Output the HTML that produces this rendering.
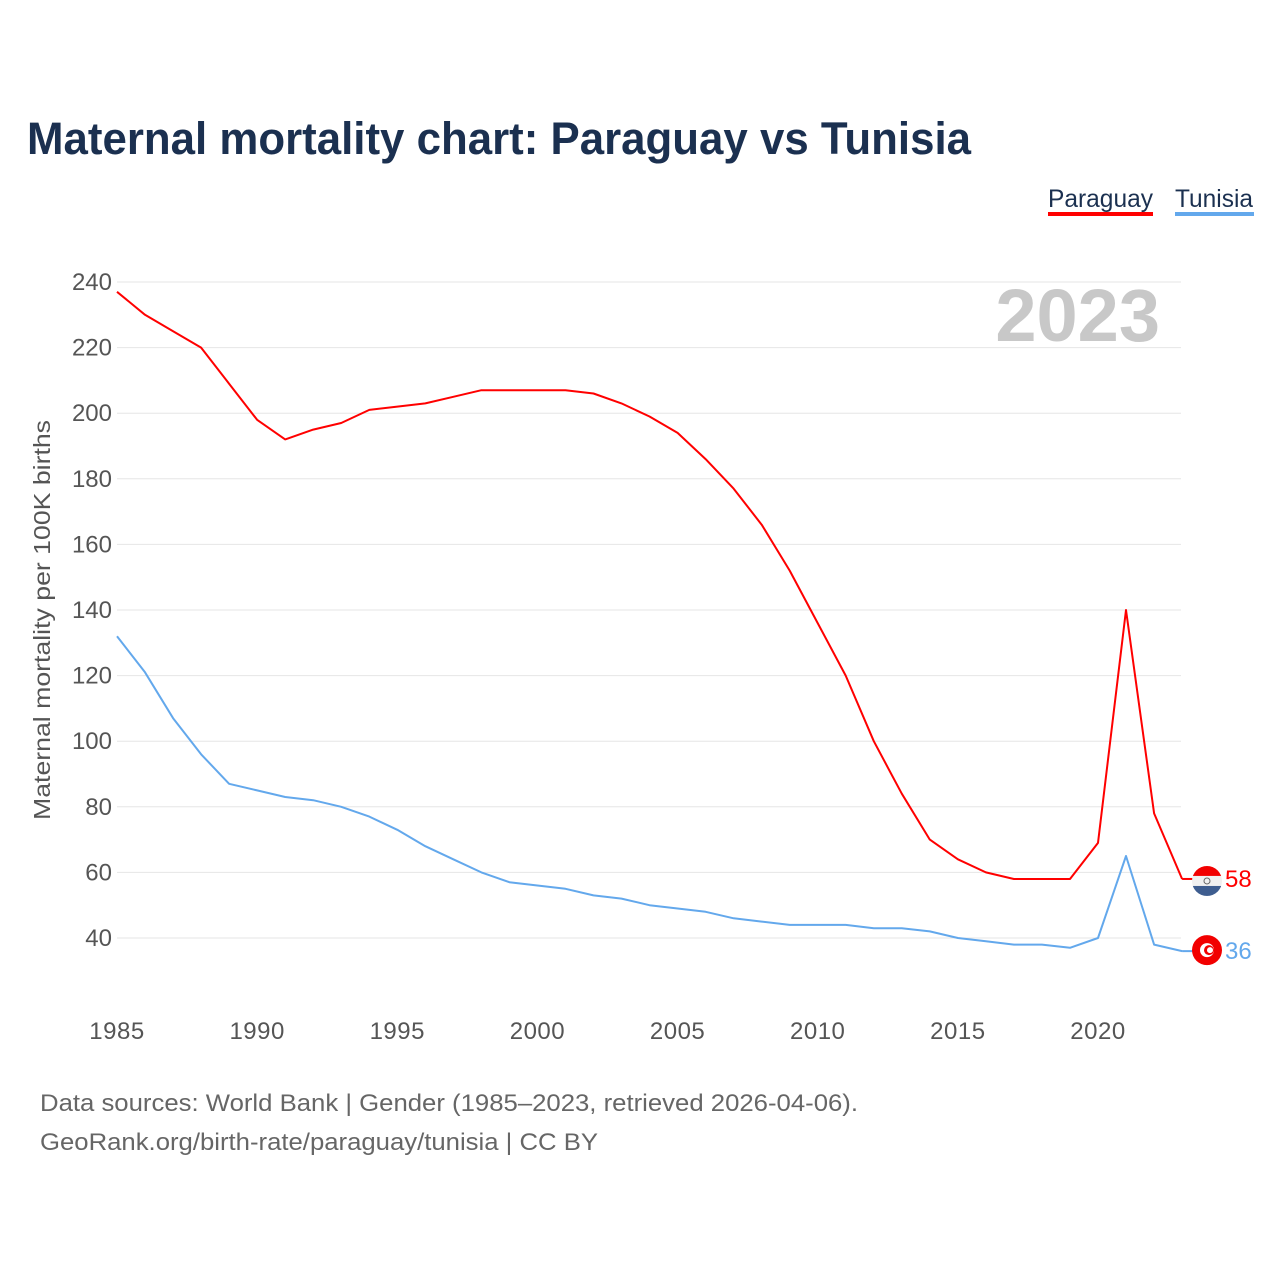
<!DOCTYPE html>
<html><head><meta charset="utf-8"><style>
body{margin:0;background:#fff;font-family:"Liberation Sans",sans-serif}
svg text{font-family:"Liberation Sans",sans-serif}
</style></head><body>
<svg id="chart" width="1280" height="1280" viewBox="0 0 1280 1280" xmlns="http://www.w3.org/2000/svg">
<rect width="1280" height="1280" fill="#fff"/>
<text x="27" y="154" font-size="45" font-weight="bold" fill="#1b3050" textLength="944" lengthAdjust="spacingAndGlyphs">Maternal mortality chart: Paraguay vs Tunisia</text>
<g>
<text x="1048" y="207" font-size="25" fill="#1b3050" textLength="105" lengthAdjust="spacingAndGlyphs">Paraguay</text>
<rect x="1048" y="212" width="105" height="4" fill="#ff0000"/>
</g>
<g>
<text x="1175" y="207" font-size="25" fill="#1b3050" textLength="78" lengthAdjust="spacingAndGlyphs">Tunisia</text>
<rect x="1175" y="212" width="79" height="4" fill="#63a8ec"/>
</g>
<text x="1160" y="341" font-size="74" font-weight="bold" fill="#c8c8c8" text-anchor="end">2023</text>
<g id="grid"></g>
<g id="yticks"></g>
<g id="xticks"></g>
<text transform="translate(50,620) rotate(-90)" font-size="23" fill="#555" text-anchor="middle" textLength="400" lengthAdjust="spacingAndGlyphs">Maternal mortality per 100K births</text>
<g id="series"></g>
<g id="flagP"></g>
<g id="flagT"></g>
<text x="40" y="1111" font-size="24" fill="#666" textLength="818" lengthAdjust="spacingAndGlyphs">Data sources: World Bank | Gender (1985–2023, retrieved 2026-04-06).</text>
<text x="40" y="1150" font-size="24" fill="#666" textLength="558" lengthAdjust="spacingAndGlyphs">GeoRank.org/birth-rate/paraguay/tunisia | CC BY</text>
</svg>
<script>
const years=[1985,1986,1987,1988,1989,1990,1991,1992,1993,1994,1995,1996,1997,1998,1999,2000,2001,2002,2003,2004,2005,2006,2007,2008,2009,2010,2011,2012,2013,2014,2015,2016,2017,2018,2019,2020,2021,2022,2023];
const paraguay=[237,230,225,220,209,198,192,195,197,201,202,203,205,207,207,207,207,206,203,199,194,186,177,166,152,136,120,100,84,70,64,60,58,58,58,69,140,78,58];
const tunisia=[132,121,107,96,87,85,83,82,80,77,73,68,64,60,57,56,55,53,52,50,49,48,46,45,44,44,44,43,43,42,40,39,38,38,37,40,65,38,36];
const yTicks=[40,60,80,100,120,140,160,180,200,220,240];
const xTicks=[1985,1990,1995,2000,2005,2010,2015,2020];
const NS="http://www.w3.org/2000/svg";
function X(y){return 117+(y-1985)*(981/35);}
function Y(v){return 938-(v-40)*3.28;}
function mk(tag,attrs,parent){const e=document.createElementNS(NS,tag);for(const k in attrs)e.setAttribute(k,attrs[k]);parent.appendChild(e);return e;}
const grid=document.getElementById('grid'),yt=document.getElementById('yticks'),xt=document.getElementById('xticks'),ser=document.getElementById('series');
yTicks.forEach(v=>{
 const l=mk('line',{x1:117,x2:1181,y1:Y(v),y2:Y(v),stroke:'#e6e6e6','stroke-width':1},grid);
 
 
 const t=mk('text',{x:112,y:Y(v)+8,'font-size':24,fill:'#555','text-anchor':'end'},yt);
 t.textContent=v;
 
 
});
xTicks.forEach(v=>{
 const t=mk('text',{x:X(v),y:1039,'font-size':24,fill:'#555','text-anchor':'middle','letter-spacing':'0.5'},xt);
 t.textContent=v;
 
 
});
function line(data,color,name){
 const d=data.map((v,i)=>(i?'L':'M')+X(years[i]).toFixed(1)+','+Y(v).toFixed(1)).join('');
 const p=mk('path',{d:d,fill:'none',stroke:color,'stroke-width':2,'stroke-linejoin':'round'},ser);
 
 
 const last=data[data.length-1];
 const lx=X(years[years.length-1]);
 mk('line',{x1:lx,x2:1195,y1:Y(last),y2:Y(last),stroke:color,'stroke-width':2},ser);
 const t=mk('text',{x:1225,y:Y(last)+8,'font-size':24,fill:color},ser);
 t.textContent=last;
 
 
}
line(paraguay,'#ff0000','line-paraguay');
line(tunisia,'#63a8ec','line-tunisia');
const pv=paraguay[paraguay.length-1],tv=tunisia[tunisia.length-1];
const fp=document.getElementById('flagP'),cy=Y(pv)+2;
const cp=mk('clipPath',{id:'cp'},fp);
mk('circle',{cx:1207,cy:cy,r:15},cp);
const g=mk('g',{'clip-path':'url(#cp)'},fp);
mk('rect',{x:1190,y:cy-15,width:34,height:10,fill:'#f20000'},g);
mk('rect',{x:1190,y:cy-5,width:34,height:10,fill:'#f0f0f0'},g);
mk('rect',{x:1190,y:cy+5,width:34,height:10,fill:'#3e5d8f'},g);
mk('circle',{cx:1207,cy:cy,r:3,fill:'none',stroke:'#666','stroke-width':1},fp);
const ft=document.getElementById('flagT'),ty=Y(tv)-1;
mk('circle',{cx:1207,cy:ty,r:15,fill:'#f20000'},ft);
mk('circle',{cx:1207,cy:ty,r:7,fill:'#fff'},ft);
mk('circle',{cx:1209,cy:ty,r:5,fill:'#f20000'},ft);
mk('circle',{cx:1210,cy:ty,r:3,fill:'#fff'},ft);
</script>
</body></html>
